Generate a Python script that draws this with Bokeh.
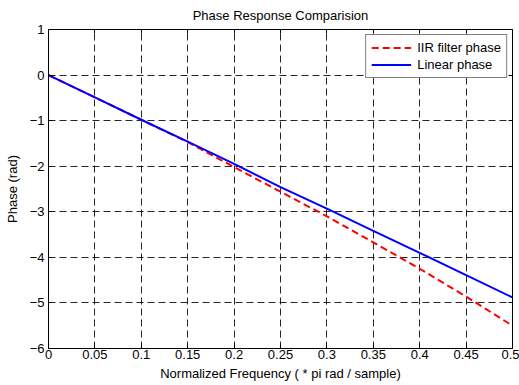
from bokeh.plotting import figure
from bokeh.models import Range1d, LinearAxis, Legend, LegendItem, FixedTicker
from bokeh.embed import file_html
from bokeh.resources import INLINE

freq = [0.0, 0.05, 0.1, 0.15, 0.2, 0.25, 0.3, 0.35, 0.4, 0.45, 0.5]
iir_phase = [0.0, -0.49, -0.98, -1.47, -2.02, -2.56, -3.10, -3.67, -4.25, -4.86, -5.50]
linear_phase = [0.0, -0.49, -0.98, -1.46, -1.95, -2.46, -2.93, -3.42, -3.90, -4.39, -4.88]
x_ticks = [0, 0.05, 0.1, 0.15, 0.2, 0.25, 0.3, 0.35, 0.4, 0.45, 0.5]
y_ticks = [-6, -5, -4, -3, -2, -1, 0, 1]

FONT = "Liberation Sans"
FS = "13px"

p = figure(width=519, height=385, output_backend="svg", toolbar_location=None,
           x_range=Range1d(0, 0.5), y_range=Range1d(-6, 1),
           min_border_left=48, min_border_right=7, min_border_top=29, min_border_bottom=37,
           title="Phase Response Comparision")
p.title.align = "center"
p.title.text_font = FONT
p.title.text_font_size = FS
p.title.text_font_style = "normal"
p.title.text_color = "black"
p.title.offset = 0
p.title.standoff = 10
p.title.vertical_align = "top"

p.outline_line_color = "black"
p.outline_line_width = 1
p.outline_line_alpha = 1
p.background_fill_color = "white"
p.border_fill_color = "white"

for ax in (p.xaxis[0], p.yaxis[0]):
    ax.major_tick_in = 4
    ax.major_tick_out = 0
    ax.minor_tick_in = 0
    ax.minor_tick_out = 0
    ax.axis_line_color = "black"
    ax.major_tick_line_color = "black"
    ax.major_label_text_font = FONT
    ax.major_label_text_font_size = FS
    ax.major_label_text_color = "black"
    ax.axis_label_text_font = FONT
    ax.axis_label_text_font_size = FS
    ax.axis_label_text_font_style = "normal"
    ax.axis_label_text_color = "black"

p.xaxis[0].ticker = FixedTicker(ticks=x_ticks)
p.yaxis[0].ticker = FixedTicker(ticks=y_ticks)
p.xaxis[0].major_label_overrides = {0: "0", 0.5: "0.5"}
p.xaxis[0].axis_label = "Normalized Frequency ( * pi rad / sample)"
p.yaxis[0].axis_label = "Phase (rad)"
p.xaxis[0].major_label_standoff = 1
p.xaxis[0].axis_label_standoff = 4
p.yaxis[0].major_label_standoff = 4
p.yaxis[0].axis_label_standoff = 7

top = LinearAxis(ticker=FixedTicker(ticks=x_ticks), major_tick_in=4, major_tick_out=0,
                 minor_tick_in=0, minor_tick_out=0,
                 major_label_overrides={t: "" for t in x_ticks},
                 major_label_standoff=0, axis_line_color="black")
right = LinearAxis(ticker=FixedTicker(ticks=y_ticks), major_tick_in=4, major_tick_out=0,
                   minor_tick_in=0, minor_tick_out=0,
                   major_label_overrides={t: "" for t in y_ticks},
                   major_label_standoff=0, axis_line_color="black")
p.add_layout(top, "above")
p.add_layout(right, "right")

p.xgrid.ticker = FixedTicker(ticks=x_ticks)
p.ygrid.ticker = FixedTicker(ticks=y_ticks)
for g in (p.xgrid[0], p.ygrid[0]):
    g.grid_line_color = "black"
    g.grid_line_dash = "7 4"
    g.grid_line_width = 1
    g.grid_line_alpha = 0.85

r1 = p.line(freq, iir_phase, line_color="#ff0000", line_width=2, line_dash="7 4")
r2 = p.line(freq, linear_phase, line_color="#0000ff", line_width=2)

legend = Legend(items=[LegendItem(label="IIR filter phase", renderers=[r1]),
                       LegendItem(label="Linear phase", renderers=[r2])],
                location="top_right")
legend.border_line_color = "black"
legend.border_line_width = 1
legend.label_text_font = FONT
legend.label_text_font_size = FS
legend.label_text_color = "black"
legend.glyph_width = 40
legend.glyph_height = 15
legend.label_height = 15
legend.spacing = 2
legend.padding = 5
legend.margin = 5
legend.label_standoff = 6
legend.background_fill_alpha = 1
p.add_layout(legend)

open("out.html", "w").write(file_html(p, INLINE))
